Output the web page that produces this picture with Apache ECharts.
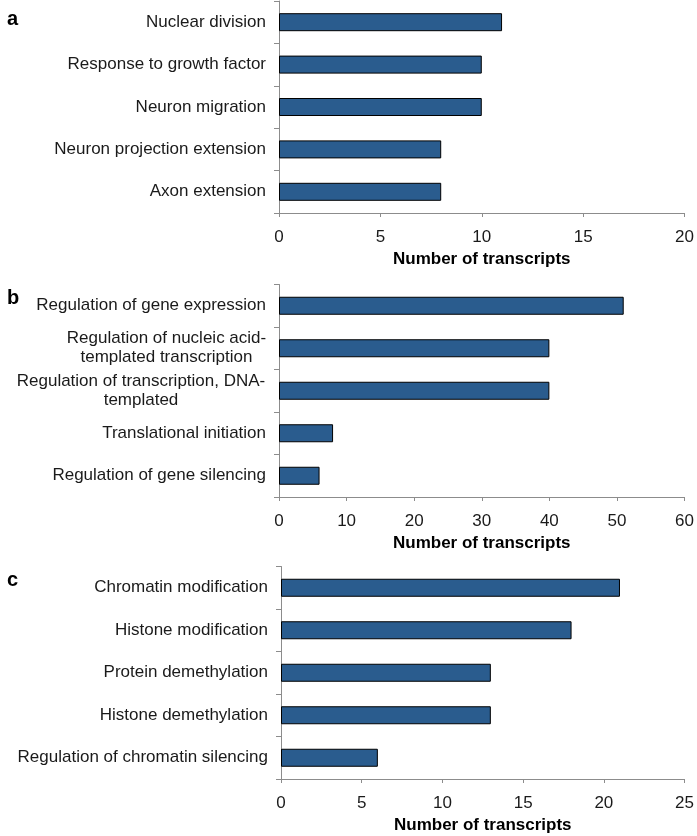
<!DOCTYPE html>
<html>
<head>
<meta charset="utf-8">
<script src="https://cdn.jsdelivr.net/npm/echarts@6/dist/echarts.min.js"></script>
<style>
html,body{margin:0;padding:0;background:#fff;}
#chart{width:697px;height:836px;}
</style>
</head>
<body>
<div id="chart"></div>
<script>
// ---- Data ----
const catsA = ['Nuclear division', 'Response to growth factor', 'Neuron migration', 'Neuron projection extension', 'Axon extension'];
const valsA = [11, 10, 10, 8, 8];
const catsB = ['Regulation of gene expression', 'Regulation of nucleic acid-\ntemplated transcription', 'Regulation of transcription, DNA-\ntemplated', 'Translational initiation', 'Regulation of gene silencing'];
const valsB = [51, 40, 40, 8, 6];
const catsC = ['Chromatin modification', 'Histone modification', 'Protein demethylation', 'Histone demethylation', 'Regulation of chromatin silencing'];
const valsC = [21, 18, 13, 13, 6];
const axisName = 'Number of transcripts';
const panelLetters = ['a', 'b', 'c'];
const xMax = [20, 60, 25];
const xInterval = [5, 10, 5];

// ---- Styles ----
const FONT = '"Liberation Sans", Arial, Helvetica, sans-serif';
const TXT = '#1a1a1a';
const AX = '#8c8c8c';
const BAR = '#2a5c8e';

const grids = [
  {left: 279, right: 11, top: 1, height: 212},
  {left: 279, right: 10, top: 284.5, height: 212.5},
  {left: 281, right: 10, top: 566.5, height: 212.5}
];

// block widths for centered multi-line labels (category index in panel b)
const multiWidth = {1: 199, 2: 250};

const labelBase = {fontFamily: FONT, fontSize: 17, color: TXT, lineHeight: 19};

function makeLabel(panel) {
  const lab = Object.assign({margin: 13}, labelBase);
  if (panel === 1) {
    lab.rich = {};
    Object.keys(multiWidth).forEach(k => {
      lab.rich['w' + k] = Object.assign({width: multiWidth[k], align: 'center'}, labelBase);
    });
    lab.formatter = (v, idx) => {
      if (multiWidth[idx] !== undefined) {
        return v.split('\n').map(s => '{w' + idx + '|' + s + '}').join('\n');
      }
      return v;
    };
  }
  return lab;
}

const allCats = [catsA, catsB, catsC];
const allVals = [valsA, valsB, valsC];

const option = {
  animation: false,
  backgroundColor: '#fff',
  title: panelLetters.map((l, i) => ({
    text: l,
    left: 2,
    top: [4, 283, 565][i],
    textStyle: {fontFamily: FONT, fontWeight: 'bold', fontSize: 20, color: '#000'}
  })),
  grid: grids,
  xAxis: allCats.map((_, i) => ({
    type: 'value',
    gridIndex: i,
    min: 0,
    max: xMax[i],
    interval: xInterval[i],
    splitLine: {show: false},
    axisLine: {show: true, lineStyle: {color: AX, width: 1}},
    axisTick: {show: true, length: 4, lineStyle: {color: AX}},
    axisLabel: {fontFamily: FONT, fontSize: 17, color: TXT, margin: 16},
    name: axisName,
    nameLocation: 'middle',
    nameGap: 38,
    nameTextStyle: {fontFamily: FONT, fontSize: 17, fontWeight: 'bold', color: '#000'}
  })),
  yAxis: allCats.map((cats, i) => ({
    type: 'category',
    gridIndex: i,
    inverse: true,
    data: cats,
    axisLine: {show: true, lineStyle: {color: AX, width: 1}},
    axisTick: {show: true, length: 5, lineStyle: {color: AX}},
    axisLabel: makeLabel(i)
  })),
  series: allVals.map((vals, i) => ({
    type: 'bar',
    xAxisIndex: i,
    yAxisIndex: i,
    data: vals,
    barWidth: 18,
    itemStyle: {color: BAR, borderColor: '#000', borderWidth: 1}
  }))
};

const chart = echarts.init(document.getElementById('chart'), null, {renderer: 'canvas'});
chart.setOption(option);
</script>
</body>
</html>
